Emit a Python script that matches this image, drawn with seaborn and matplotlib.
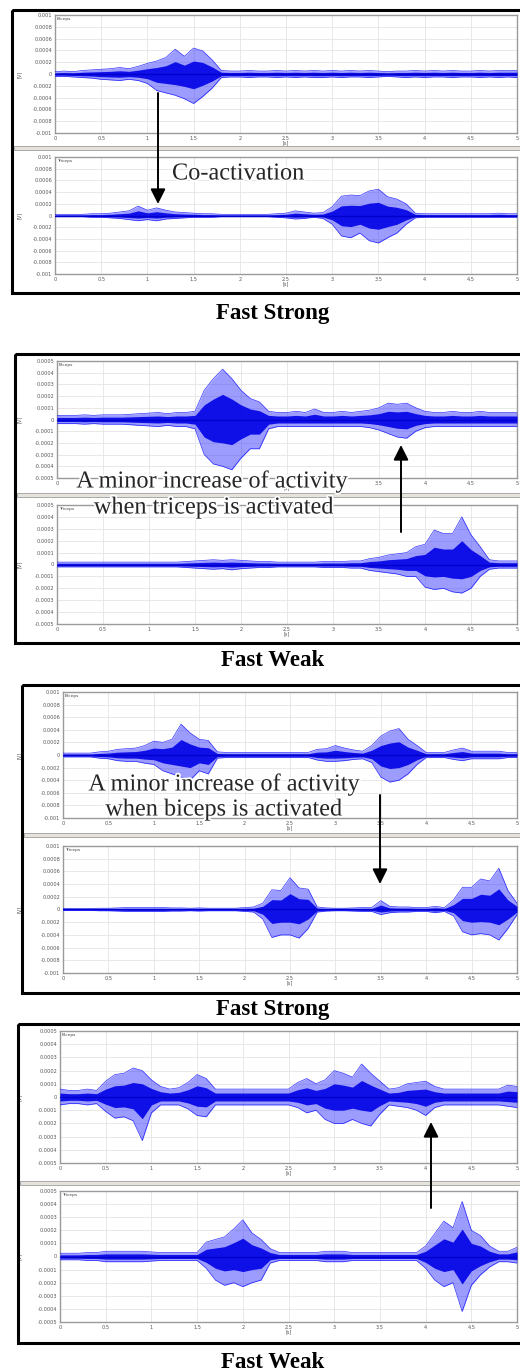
import numpy as np
import pandas as pd
import matplotlib
matplotlib.use("Agg")
import matplotlib.pyplot as plt
import seaborn as sns
from matplotlib.patches import Rectangle
import matplotlib.patheffects as pe

# ---------------- data (EMG envelopes, units 1e-4 V) -------------
time_s = [round(0.1 * i, 1) for i in range(51)]

p1_biceps_up = [0.4, 0.5, 0.4, 0.6, 0.7, 0.8, 0.9, 1.1, 0.9, 1.3,
                1.8, 2.2, 2.8, 4.2, 3.0, 4.4, 3.9, 2.4, 0.6, 0.5,
                0.5, 0.6, 0.5, 0.5, 0.6, 0.5, 0.6, 0.5, 0.6, 0.5,
                0.6, 0.5, 0.6, 0.5, 0.6, 0.5, 0.4, 0.5, 0.5, 0.6,
                0.5, 0.6, 0.5, 0.6, 0.5, 0.5, 0.6, 0.5, 0.6, 0.6, 0.6]
p1_biceps_lo = [0.4, 0.4, 0.5, 0.6, 0.7, 0.9, 1.0, 1.1, 0.9, 1.1,
                1.6, 2.8, 3.2, 3.6, 4.2, 5.0, 3.8, 2.4, 0.6, 0.5,
                0.5, 0.6, 0.5, 0.5, 0.6, 0.5, 0.6, 0.5, 0.6, 0.6,
                0.5, 0.6, 0.5, 0.5, 0.6, 0.5, 0.4, 0.5, 0.6, 0.5,
                0.6, 0.5, 0.5, 0.6, 0.5, 0.5, 0.6, 0.5, 0.6, 0.5, 0.6]
p1_triceps_up = [0.2, 0.2, 0.2, 0.2, 0.3, 0.3, 0.4, 0.6, 0.8, 1.6,
                 0.9, 1.3, 0.9, 0.6, 0.5, 0.4, 0.3, 0.3, 0.2, 0.2,
                 0.2, 0.2, 0.2, 0.2, 0.3, 0.4, 0.8, 0.6, 0.4, 0.5,
                 1.5, 3.3, 3.5, 3.4, 4.2, 4.5, 3.2, 2.8, 2.0, 0.4,
                 0.3, 0.3, 0.3, 0.3, 0.3, 0.3, 0.3, 0.3, 0.4, 0.3, 0.3]
p1_triceps_lo = [0.2, 0.2, 0.2, 0.2, 0.3, 0.3, 0.4, 0.5, 0.7, 0.9,
                 0.7, 0.9, 0.6, 0.5, 0.4, 0.3, 0.3, 0.3, 0.2, 0.2,
                 0.2, 0.2, 0.2, 0.2, 0.3, 0.4, 0.6, 0.5, 0.3, 0.5,
                 1.5, 3.5, 3.8, 3.0, 4.3, 4.7, 3.8, 3.0, 1.5, 0.4,
                 0.3, 0.3, 0.3, 0.3, 0.3, 0.3, 0.3, 0.3, 0.3, 0.3, 0.3]

p2_biceps_up = [0.35, 0.35, 0.35, 0.4, 0.35, 0.4, 0.4, 0.4, 0.45, 0.5,
                0.55, 0.6, 0.5, 0.6, 0.6, 0.7, 2.5, 3.5, 4.3, 3.5,
                2.5, 1.8, 1.5, 0.7, 0.6, 0.6, 0.7, 0.6, 0.9, 0.6,
                0.6, 0.7, 0.6, 0.7, 0.8, 1.0, 1.4, 1.3, 1.4, 1.0,
                0.7, 0.6, 0.6, 0.7, 0.6, 0.6, 0.7, 0.6, 0.6, 0.6, 0.6]
p2_biceps_lo = [0.35, 0.35, 0.35, 0.4, 0.35, 0.4, 0.4, 0.4, 0.45, 0.5,
                0.55, 0.6, 0.5, 0.6, 0.6, 0.8, 3.0, 3.8, 4.0, 4.3,
                3.3, 2.5, 2.5, 0.8, 0.6, 0.6, 0.6, 0.6, 0.6, 0.6,
                0.6, 0.6, 0.6, 0.6, 0.7, 0.9, 1.2, 1.5, 1.6, 1.0,
                0.7, 0.6, 0.6, 0.6, 0.6, 0.6, 0.6, 0.6, 0.6, 0.6, 0.6]
p2_triceps_up = [0.2, 0.2, 0.2, 0.2, 0.2, 0.2, 0.2, 0.2, 0.2, 0.2,
                 0.2, 0.2, 0.2, 0.2, 0.25, 0.3, 0.35, 0.4, 0.35, 0.4,
                 0.35, 0.3, 0.25, 0.25, 0.2, 0.2, 0.2, 0.2, 0.2, 0.25,
                 0.25, 0.25, 0.3, 0.3, 0.5, 0.6, 0.8, 0.9, 1.0, 1.5,
                 1.7, 2.9, 2.6, 2.6, 4.0, 2.5, 1.5, 0.4, 0.3, 0.3, 0.3]
p2_triceps_lo = [0.2, 0.2, 0.2, 0.2, 0.2, 0.2, 0.2, 0.2, 0.2, 0.2,
                 0.2, 0.2, 0.2, 0.2, 0.25, 0.3, 0.35, 0.4, 0.35, 0.45,
                 0.35, 0.3, 0.25, 0.25, 0.2, 0.2, 0.2, 0.2, 0.2, 0.25,
                 0.25, 0.25, 0.3, 0.3, 0.5, 0.6, 0.7, 0.8, 1.0, 1.0,
                 1.9, 2.1, 2.0, 2.3, 2.4, 2.0, 1.0, 0.4, 0.3, 0.3, 0.3]

p3_biceps_up = [0.3, 0.3, 0.3, 0.3, 0.5, 0.6, 0.9, 1.0, 1.1, 1.5,
                2.2, 2.0, 2.5, 4.9, 3.5, 2.5, 2.3, 0.5, 0.4, 0.4,
                0.4, 0.4, 0.4, 0.4, 0.4, 0.4, 0.4, 0.4, 0.9, 1.0,
                1.5, 1.1, 0.8, 0.6, 1.5, 3.0, 3.8, 4.2, 2.5, 1.5,
                0.4, 0.4, 0.4, 0.8, 1.1, 0.6, 0.6, 0.6, 0.6, 0.4, 0.4]
p3_biceps_lo = [0.3, 0.3, 0.3, 0.3, 0.5, 0.6, 0.9, 1.0, 1.0, 1.3,
                1.5, 2.5, 3.0, 3.5, 4.0, 2.5, 3.0, 0.5, 0.4, 0.4,
                0.4, 0.4, 0.4, 0.4, 0.4, 0.4, 0.4, 0.4, 0.8, 1.0,
                1.0, 0.9, 0.7, 0.6, 1.2, 3.5, 4.3, 4.0, 3.0, 1.5,
                0.4, 0.4, 0.4, 0.7, 0.9, 0.6, 0.6, 0.6, 0.6, 0.4, 0.4]
p3_triceps_up = [0.15, 0.15, 0.15, 0.15, 0.2, 0.2, 0.25, 0.3, 0.3, 0.3,
                 0.3, 0.3, 0.25, 0.25, 0.2, 0.25, 0.2, 0.2, 0.2, 0.2,
                 0.3, 0.4, 1.0, 3.1, 3.0, 5.0, 3.4, 3.2, 0.4, 0.25,
                 0.2, 0.2, 0.25, 0.3, 0.3, 1.4, 0.5, 0.4, 0.4, 0.3,
                 0.3, 0.5, 0.3, 1.5, 3.5, 3.5, 4.8, 4.5, 6.5, 3.0, 1.0]
p3_triceps_lo = [0.15, 0.15, 0.15, 0.15, 0.2, 0.2, 0.25, 0.3, 0.3, 0.3,
                 0.3, 0.3, 0.25, 0.25, 0.2, 0.25, 0.2, 0.2, 0.2, 0.2,
                 0.3, 0.4, 1.5, 4.4, 4.0, 4.0, 4.5, 3.0, 0.4, 0.25,
                 0.2, 0.2, 0.25, 0.3, 0.3, 0.8, 0.5, 0.4, 0.4, 0.3,
                 0.3, 0.5, 0.3, 1.0, 3.5, 4.0, 3.8, 4.0, 4.8, 3.0, 0.8]

p4_biceps_up = [0.6, 0.5, 0.5, 0.6, 0.5, 1.2, 1.7, 1.8, 2.2, 2.0,
                1.3, 0.8, 0.6, 0.7, 1.1, 1.7, 1.4, 0.6, 0.6, 0.6,
                0.6, 0.6, 0.6, 0.6, 0.6, 0.6, 1.1, 1.4, 1.0, 1.3,
                2.0, 1.8, 1.5, 2.5, 1.8, 1.2, 0.6, 0.7, 1.0, 1.1,
                1.2, 0.8, 0.6, 0.6, 0.6, 0.6, 0.6, 0.6, 0.6, 0.9, 0.8]
p4_biceps_lo = [0.6, 0.5, 0.5, 0.6, 0.5, 1.1, 1.6, 1.5, 1.8, 3.3,
                1.2, 0.6, 0.6, 0.6, 0.9, 1.4, 1.5, 0.6, 0.6, 0.6,
                0.6, 0.6, 0.6, 0.6, 0.6, 0.6, 0.8, 1.2, 1.0, 1.7,
                2.0, 2.0, 1.7, 2.0, 2.2, 1.3, 0.6, 0.7, 0.8, 1.0,
                1.4, 0.8, 0.6, 0.6, 0.6, 0.6, 0.6, 0.6, 0.6, 0.7, 0.8]
p4_triceps_up = [0.25, 0.25, 0.25, 0.3, 0.3, 0.4, 0.4, 0.4, 0.4, 0.4,
                 0.35, 0.3, 0.3, 0.3, 0.3, 0.3, 1.1, 1.3, 1.5, 2.1,
                 2.8, 1.8, 1.3, 0.6, 0.3, 0.3, 0.3, 0.3, 0.3, 0.4,
                 0.4, 0.4, 0.3, 0.3, 0.3, 0.3, 0.3, 0.3, 0.3, 0.3,
                 0.8, 1.75, 2.7, 2.2, 4.2, 2.0, 1.6, 0.8, 0.4, 0.4, 0.7]
p4_triceps_lo = [0.25, 0.25, 0.25, 0.3, 0.3, 0.4, 0.4, 0.4, 0.4, 0.4,
                 0.35, 0.3, 0.3, 0.3, 0.3, 0.3, 0.9, 1.8, 2.2, 2.0,
                 2.3, 2.0, 1.8, 0.5, 0.3, 0.3, 0.3, 0.3, 0.3, 0.4,
                 0.4, 0.4, 0.3, 0.3, 0.3, 0.3, 0.3, 0.3, 0.3, 0.3,
                 0.9, 1.8, 2.3, 2.0, 4.2, 2.2, 1.4, 0.8, 0.4, 0.4, 0.5]

x_ticks = [0, 0.5, 1, 1.5, 2, 2.5, 3, 3.5, 4, 4.5, 5]
x_tick_labels = ["0", "0.5", "1", "1.5", "2", "2.5", "3", "3.5", "4", "4.5", "5"]
# in the second panel's upper chart the text hides the labels 0.5 ... 3
x_tick_labels_hidden = ["0", "", "", "", "", "", "", "3.5", "4", "4.5", "5"]
y_ticks_1mV = [0.001, 0.0008, 0.0006, 0.0004, 0.0002, 0, -0.0002, -0.0004, -0.0006, -0.0008, -0.001]
y_labels_1mV = ["0.001", "0.0008", "0.0006", "0.0004", "0.0002", "0",
                "-0.0002", "-0.0004", "-0.0006", "-0.0008", "-0.001"]
y_ticks_05mV = [0.0005, 0.0004, 0.0003, 0.0002, 0.0001, 0, -0.0001, -0.0002, -0.0003, -0.0004, -0.0005]
y_labels_05mV = ["0.0005", "0.0004", "0.0003", "0.0002", "0.0001", "0",
                 "-0.0001", "-0.0002", "-0.0003", "-0.0004", "-0.0005"]
muscle_names = ["Biceps", "Triceps"]
captions = ["Fast Strong", "Fast Weak", "Fast Strong", "Fast Weak"]

# ---------------- layout ----------------
sns.set_style("white")
plt.rcParams["font.family"] = ["DejaVu Sans"]

W, H = 520, 1372
fig = plt.figure(figsize=(W / 100, H / 100), dpi=100)
fig.patch.set_facecolor("white")

UNIT = 1e-4
BLUE = "#0000ff"

def add_ax(x0, y0, x1, y1):
    return fig.add_axes([x0 / W, 1 - y1 / H, (x1 - x0) / W, (y1 - y0) / H])

def draw_trace(ax, up, lo, yt, yl, xl, name, x0, x1, show_xlabel=True):
    df = pd.DataFrame({"t": time_s,
                       "up": np.array(up) * UNIT,
                       "lo": -np.array(lo) * UNIT})
    ax.fill_between(df["t"], df["lo"], df["up"], color="#3a3aff", alpha=0.5, lw=0, zorder=3)
    ax.fill_between(df["t"], df["lo"] * 0.5, df["up"] * 0.5, color="#0000e6", alpha=0.9, lw=0, zorder=4)
    sns.lineplot(data=df, x="t", y="up", ax=ax, color=BLUE, lw=0.5, alpha=0.8, zorder=5)
    sns.lineplot(data=df, x="t", y="lo", ax=ax, color=BLUE, lw=0.5, alpha=0.8, zorder=5)
    ax.axhline(0, color="#0000cc", lw=1.0, zorder=6)
    ax.set_xlim(0, 5)
    ax.set_ylim(yt[-1], yt[0])
    ax.set_xticks(x_ticks)
    ax.set_xticklabels(xl)
    ax.set_yticks(yt)
    ax.set_yticklabels(yl)
    ax.tick_params(axis="both", labelsize=3.6, labelcolor="#555555", length=0, pad=2)
    ax.grid(True, color="#e4e4e4", lw=0.6)
    ax.set_axisbelow(True)
    for s in ax.spines.values():
        s.set_color("#9a9a9a")
        s.set_linewidth(1.0)
    ax.set_xlabel("[s]", fontsize=3.6, color="#555555", labelpad=0)
    ax.set_ylabel("[V]", fontsize=3.6, color="#555555")
    ax.yaxis.set_label_coords(-(x0 - 22) / (x1 - x0), 0.5)
    ax.text(0.004, 0.985, name, transform=ax.transAxes, fontsize=3.2,
            color="#444444", va="top", ha="left")

panels = [
    dict(bx=12, by0=10, by1=293, ax0=55, top=(15, 133), bot=(157, 274), sep=147,
         yt=y_ticks_1mV, yl=y_labels_1mV, xl=[x_tick_labels, x_tick_labels],
         data=[(p1_biceps_up, p1_biceps_lo), (p1_triceps_up, p1_triceps_lo)], cap_y=313),
    dict(bx=15, by0=354, by1=643, ax0=57, top=(361, 478), bot=(505, 624), sep=494,
         yt=y_ticks_05mV, yl=y_labels_05mV, xl=[x_tick_labels_hidden, x_tick_labels],
         data=[(p2_biceps_up, p2_biceps_lo), (p2_triceps_up, p2_triceps_lo)], cap_y=661),
    dict(bx=22, by0=685, by1=993, ax0=63, top=(692, 818), bot=(846, 973), sep=834,
         yt=y_ticks_1mV, yl=y_labels_1mV, xl=[x_tick_labels, x_tick_labels],
         data=[(p3_biceps_up, p3_biceps_lo), (p3_triceps_up, p3_triceps_lo)], cap_y=1010),
    dict(bx=18, by0=1024, by1=1343, ax0=60, top=(1031, 1163), bot=(1191, 1322), sep=1182,
         yt=y_ticks_05mV, yl=y_labels_05mV, xl=[x_tick_labels, x_tick_labels],
         data=[(p4_biceps_up, p4_biceps_lo), (p4_triceps_up, p4_triceps_lo)], cap_y=1362),
]

AX_RIGHT = 517
for p in panels:
    for (yy, (up, lo), name, xl) in zip([p["top"], p["bot"]], p["data"], muscle_names, p["xl"]):
        ax = add_ax(p["ax0"], yy[0], AX_RIGHT, yy[1])
        draw_trace(ax, up, lo, p["yt"], p["yl"], xl, name, p["ax0"], AX_RIGHT)

# overlay in pixel coordinates for borders, arrows and text
ov = fig.add_axes([0, 0, 1, 1], zorder=20)
ov.set_xlim(0, W)
ov.set_ylim(H, 0)
ov.axis("off")
ov.patch.set_alpha(0)

serif = ["Liberation Serif", "DejaVu Serif"]
for p, cap in zip(panels, captions):
    ov.add_patch(Rectangle((p["bx"], p["by0"]), 540 - p["bx"], p["by1"] - p["by0"],
                           fill=False, ec="black", lw=2.2))
    ov.add_patch(Rectangle((p["bx"] + 2, p["sep"] - 1.5), 540, 4,
                           fc="#e6e3dc", ec="#a8a8a8", lw=0.7))
    ov.text(273, p["cap_y"], cap, ha="center", va="center", fontsize=16.5,
            fontweight="bold", family=serif, color="black")

arrow_kw = dict(arrowstyle="-|>,head_length=0.6,head_width=0.3", color="black",
                lw=1.4, mutation_scale=15, shrinkA=0, shrinkB=0)
halo = [pe.withStroke(linewidth=2.5, foreground="white")]

# Panel 1: co-activation
ov.annotate("", xy=(158, 204), xytext=(158, 93), arrowprops=arrow_kw)
ov.text(172, 174, "Co-activation", fontsize=17.5, family=serif, va="center", ha="left",
        path_effects=halo)

# Panel 2
ov.annotate("", xy=(401, 445), xytext=(401, 532), arrowprops=arrow_kw)
ov.text(212, 482, "A minor increase of activity", fontsize=17.5, family=serif,
        va="center", ha="center", path_effects=halo)
ov.text(214, 508, "when triceps is activated", fontsize=17.5, family=serif,
        va="center", ha="center", path_effects=halo)

# Panel 3
ov.annotate("", xy=(380, 884), xytext=(380, 795), arrowprops=arrow_kw)
ov.text(224, 785, "A minor increase of activity", fontsize=17.5, family=serif,
        va="center", ha="center", path_effects=halo)
ov.text(224, 810, "when biceps is activated", fontsize=17.5, family=serif,
        va="center", ha="center", path_effects=halo)

# Panel 4
ov.annotate("", xy=(431, 1122), xytext=(431, 1208), arrowprops=arrow_kw)

fig.savefig("out.png", dpi=100, facecolor="white")
